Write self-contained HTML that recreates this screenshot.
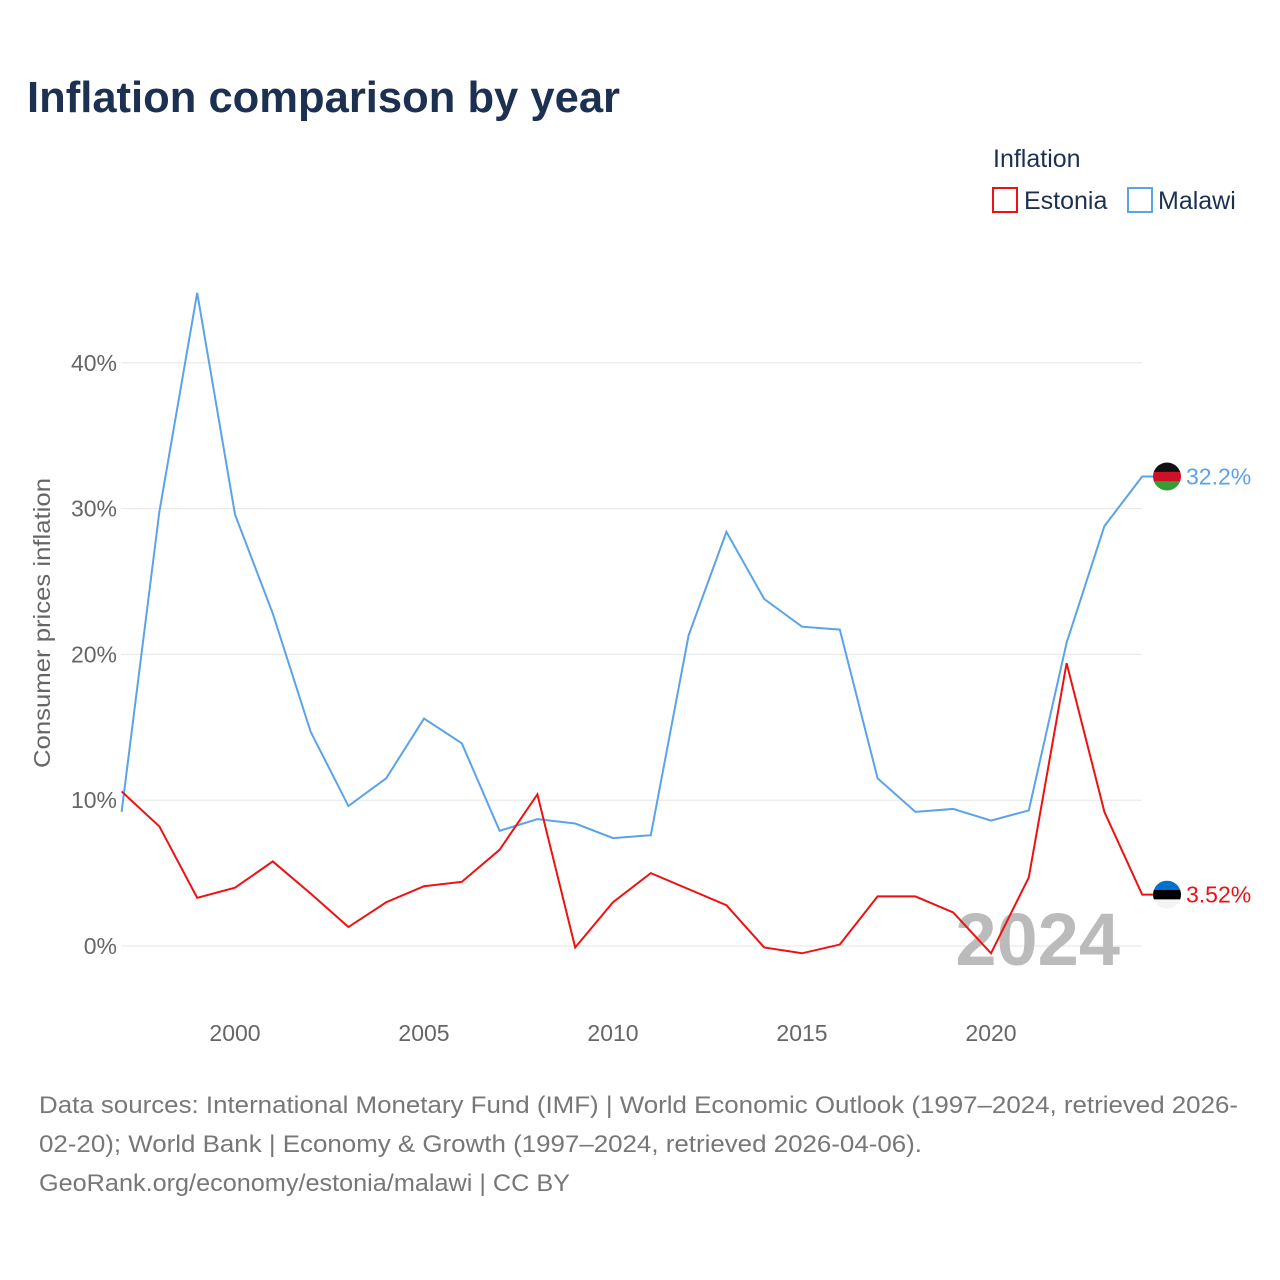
<!DOCTYPE html>
<html><head><meta charset="utf-8"><style>
body{margin:0;background:#fff;font-family:"Liberation Sans",sans-serif}
</style></head><body>
<svg id="chart" width="1280" height="1280" xmlns="http://www.w3.org/2000/svg" style="display:block">
<rect width="1280" height="1280" fill="#fff"/>
<text x="27" y="112" font-size="44" font-weight="bold" fill="#1c3152" textLength="593" lengthAdjust="spacingAndGlyphs">Inflation comparison by year</text>
<text x="993" y="167" font-size="25" fill="#1c3152">Inflation</text>
<g><rect x="993" y="188" width="24" height="24" fill="none" stroke="#ee1111" stroke-width="2"/><text x="1024" y="209" font-size="25" fill="#1c3152">Estonia</text></g>
<g><rect x="1128" y="188" width="24" height="24" fill="none" stroke="#5ba3e8" stroke-width="2"/><text x="1158" y="209" font-size="25" fill="#1c3152">Malawi</text></g>
<text transform="translate(50,623) rotate(-90)" text-anchor="middle" font-size="23" fill="#666" textLength="290" lengthAdjust="spacingAndGlyphs">Consumer prices inflation</text>
<g id="grid"></g><g id="yticks"></g><g id="xticks"></g>
<text x="1120" y="965" text-anchor="end" font-size="74" font-weight="bold" fill="#bbb">2024</text>
<g id="series"></g>
<text font-size="24" fill="#777"><tspan x="39" y="1113" textLength="1199" lengthAdjust="spacingAndGlyphs">Data sources: International Monetary Fund (IMF) | World Economic Outlook (1997–2024, retrieved 2026-</tspan><tspan x="39" y="1152" textLength="883" lengthAdjust="spacingAndGlyphs">02-20); World Bank | Economy &amp; Growth (1997–2024, retrieved 2026-04-06).</tspan><tspan x="39" y="1191" textLength="531" lengthAdjust="spacingAndGlyphs">GeoRank.org/economy/estonia/malawi | CC BY</tspan></text>
</svg>
<script>
const years=[1997,1998,1999,2000,2001,2002,2003,2004,2005,2006,2007,2008,2009,2010,2011,2012,2013,2014,2015,2016,2017,2018,2019,2020,2021,2022,2023,2024];
const malawi=[9.2,29.8,44.8,29.6,22.8,14.7,9.6,11.5,15.6,13.9,7.9,8.7,8.4,7.4,7.6,21.3,28.4,23.8,21.9,21.7,11.5,9.2,9.4,8.6,9.3,20.8,28.8,32.2];
const estonia=[10.6,8.2,3.3,4.0,5.8,3.6,1.3,3.0,4.1,4.4,6.6,10.4,-0.1,3.0,5.0,3.9,2.8,-0.1,-0.5,0.1,3.4,3.4,2.3,-0.5,4.7,19.4,9.2,3.52];
const yTicks=[0,10,20,30,40];
const xTicks=[2000,2005,2010,2015,2020];
const NS="http://www.w3.org/2000/svg";
const x=v=>121.6+(v-1997)*37.8;
const y=v=>946-v*14.58;
function mk(t,a,p){const e=document.createElementNS(NS,t);for(const k in a)e.setAttribute(k,a[k]);p.appendChild(e);return e;}
const grid=document.getElementById('grid'),yt=document.getElementById('yticks'),xt=document.getElementById('xticks'),ser=document.getElementById('series');
yTicks.forEach(v=>{
 const l=mk('line',{x1:121,x2:1142,y1:y(v),y2:y(v),stroke:'#e6e6e6','stroke-width':1},grid);
 
 
 const t=mk('text',{x:117,y:y(v)+8,'text-anchor':'end','font-size':23,fill:'#666'},yt);
 t.textContent=v+'%';
 
 
});
xTicks.forEach(v=>{
 const t=mk('text',{x:x(v),y:1041,'text-anchor':'middle','font-size':23,fill:'#666'},xt);
 t.textContent=v;
 
 
});
function drawSeries(vals,color,name,label,flag){
 const pts=vals.map((v,i)=>x(years[i])+','+y(v)).join(' ');
 const last=vals[vals.length-1];
 const p=mk('polyline',{points:pts+' '+(x(2024)+13)+','+y(last),fill:'none',stroke:color,'stroke-width':2},ser);
 
 
 const g=mk('g',{},ser);
 
 
 const cx=1167,cy=y(last);
 const id='c'+name;
 const cp=mk('clipPath',{id:id},g);mk('circle',{cx:cx,cy:cy,r:14},cp);
 const h=28/flag.length;
 flag.forEach((c,i)=>mk('rect',{x:cx-14,y:cy-14+i*h,width:28,height:h+0.5,fill:c,'clip-path':'url(#'+id+')'},g));
 const t=mk('text',{x:1186,y:cy+8,'font-size':23,fill:color},ser);
 t.textContent=label;
 
 
}
drawSeries(malawi,'#5ba3e8','malawi','32.2%',['#111','#ce1126','#339e35']);
drawSeries(estonia,'#ee1111','estonia','3.52%',['#0072ce','#000','#f4f4f4']);
</script>
</body></html>
